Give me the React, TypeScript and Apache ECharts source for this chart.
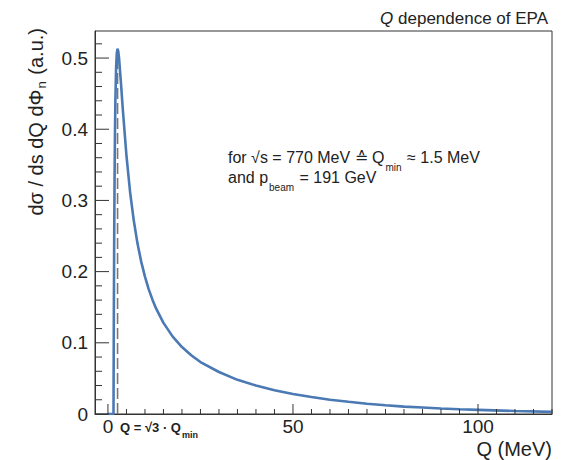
import React, { useEffect, useRef } from "react";
import * as echarts from "echarts";

// Q (MeV) and dσ/ds dQ dΦn (a.u.)
const qValues = [0, 1.5, 1.6, 1.7, 1.8, 1.9, 2.0, 2.2, 2.4, 2.6, 2.8, 3.0, 3.5, 4, 5, 6, 7, 8, 9, 10, 11, 12, 13, 15, 17.5, 20, 22.5, 25, 30, 35, 40, 45, 50, 55, 60, 65, 70, 75, 80, 85, 90, 95, 100, 110, 120];
const sigmaValues = [0, 0, 0.151, 0.26, 0.339, 0.396, 0.437, 0.486, 0.507, 0.513, 0.509, 0.5, 0.466, 0.429, 0.363, 0.311, 0.271, 0.239, 0.2137, 0.193, 0.1754, 0.161, 0.1483, 0.128, 0.1087, 0.094, 0.0825, 0.073, 0.059, 0.048, 0.04, 0.0335, 0.028, 0.0239, 0.02, 0.0171, 0.0145, 0.0122, 0.0103, 0.0091, 0.0077, 0.0066, 0.0058, 0.0042, 0.003];

// Dashed marker at Q = sqrt(3) * Qmin
const markerQ = [2.6, 2.6];
const markerSigma = [0, 0.513];

const xMajorTicks = [0, 50, 100];
const xMinorTicks = [5, 10, 15, 20, 25, 30, 35, 40, 45, 55, 60, 65, 70, 75, 80, 85, 90, 95, 105, 110, 115, 120];
const yMajorTicks = [0, 0.1, 0.2, 0.3, 0.4, 0.5];
const yMinorTicks = [0.02, 0.04, 0.06, 0.08, 0.12, 0.14, 0.16, 0.18, 0.22, 0.24, 0.26, 0.28, 0.32, 0.34, 0.36, 0.38, 0.42, 0.44, 0.46, 0.48, 0.52];

const FONT = "'Liberation Sans', Arial, Helvetica, sans-serif";
const AX = "#333";
const TXT = "#222";

export default function App() {
  const ref = useRef<HTMLDivElement>(null);
  useEffect(() => {
    document.body.style.margin = "0";
    const chart = echarts.init(ref.current!, undefined, { renderer: "svg" });
    const xMin = -3.5, xMax = 120, yMin = 0, yMax = 0.538;

    const tickSeries = (values: number[], dir: "x" | "y", len: number) => ({
      type: "custom",
      xAxisIndex: 0,
      yAxisIndex: 0,
      silent: true,
      clip: false,
      z: 5,
      data: values.map((v) => [v]),
      renderItem: (_p: any, api: any) => {
        const v = api.value(0);
        if (dir === "x") {
          const p = api.coord([v, yMin]);
          return { type: "line", shape: { x1: p[0], y1: p[1], x2: p[0], y2: p[1] - len }, style: { stroke: AX, lineWidth: 1 } };
        }
        const p = api.coord([xMin, v]);
        return { type: "line", shape: { x1: p[0], y1: p[1], x2: p[0] + len, y2: p[1] }, style: { stroke: AX, lineWidth: 1 } };
      },
    });

    chart.setOption({
      animation: false,
      grid: { left: 95, right: 9, top: 31, bottom: 46, containLabel: false, outerBoundsMode: "none", show: true, borderColor: AX, borderWidth: 1, backgroundColor: "transparent" },
      xAxis: {
        type: "value",
        min: xMin,
        max: xMax,
        position: "bottom",
        splitLine: { show: false },
        axisLine: { show: true, onZero: false, lineStyle: { color: AX, width: 1 } },
        axisTick: { show: false },
        axisLabel: { show: true, customValues: xMajorTicks, margin: 3, fontSize: 19, color: TXT, fontFamily: FONT },
      },
      yAxis: {
        type: "value",
        min: yMin,
        max: yMax,
        position: "left",
        splitLine: { show: false },
        axisLine: { show: true, onZero: false, lineStyle: { color: AX, width: 1 } },
        axisTick: { show: false },
        axisLabel: {
          show: true,
          customValues: yMajorTicks,
          margin: 7,
          fontSize: 19,
          color: TXT,
          fontFamily: FONT,
          formatter: (v: number) => (v === 0 ? "0" : v.toFixed(1)),
        },
      },
      series: [
        {
          type: "line",
          data: markerQ.map((q, i) => [q, markerSigma[i]]),
          showSymbol: false,
          symbol: "none",
          lineStyle: { color: "#7d7570", width: 1.6, type: [11, 4] },
          z: 2,
        },
        {
          type: "line",
          data: qValues.map((q, i) => [q, sigmaValues[i]]),
          showSymbol: false,
          symbol: "none",
          smooth: false,
          lineStyle: { color: "#4a79b4", width: 2.6 },
          z: 3,
        },
        tickSeries(xMajorTicks, "x", 10),
        tickSeries(xMinorTicks, "x", 5),
        tickSeries(yMajorTicks, "y", 14),
        tickSeries(yMinorTicks, "y", 7),
      ],
      graphic: [
        {
          type: "text",
          x: 548,
          y: 18,
          style: {
            text: "{i|Q}{r| dependence of EPA}",
            align: "right",
            verticalAlign: "middle",
            rich: {
              i: { fontSize: 17, fontFamily: FONT, fontStyle: "italic", fill: TXT },
              r: { fontSize: 17, fontFamily: FONT, fill: TXT },
            },
          },
        },
        {
          type: "text",
          x: 38,
          y: 28,
          rotation: Math.PI / 2,
          style: {
            text: "{m|dσ / ds dQ dΦ}{s|n}{m| (a.u.)}",
            align: "right",
            verticalAlign: "middle",
            rich: {
              m: { fontSize: 20, fontFamily: FONT, fill: TXT, lineHeight: 24, verticalAlign: "top" },
              s: { fontSize: 13, fontFamily: FONT, fill: TXT, lineHeight: 14, padding: [9, 1, 0, 1], verticalAlign: "top" },
            },
          },
        },
        {
          type: "text",
          x: 228,
          y: 149,
          style: {
            text: "{t|for √s = 770 MeV ≙ Q}{s|min}{t| ≈ 1.5 MeV}\n{t|and p}{s|beam}{t| = 191 GeV}",
            align: "left",
            verticalAlign: "top",
            rich: {
              t: { fontSize: 16, fontFamily: FONT, fill: TXT, lineHeight: 20, verticalAlign: "top" },
              s: { fontSize: 10, fontFamily: FONT, fill: TXT, lineHeight: 10, padding: [13, 1, 0, 1], verticalAlign: "top" },
            },
          },
        },
        {
          type: "text",
          x: 120,
          y: 421,
          style: {
            text: "{b|Q = √3 · Q}{bs|min}",
            align: "left",
            verticalAlign: "top",
            rich: {
              b: { fontSize: 13, fontFamily: FONT, fontWeight: "bold", fill: TXT, lineHeight: 16, verticalAlign: "top" },
              bs: { fontSize: 9, fontFamily: FONT, fontWeight: "bold", fill: TXT, lineHeight: 9, padding: [9, 0, 0, 1], verticalAlign: "top" },
            },
          },
        },
        {
          type: "text",
          x: 552,
          y: 449,
          style: {
            text: "Q (MeV)",
            align: "right",
            verticalAlign: "middle",
            fontSize: 20,
            fontFamily: FONT,
            fill: TXT,
          },
        },
      ],
    });
    return () => chart.dispose();
  }, []);
  return <div ref={ref} style={{ width: 561, height: 460 }} />;
}
